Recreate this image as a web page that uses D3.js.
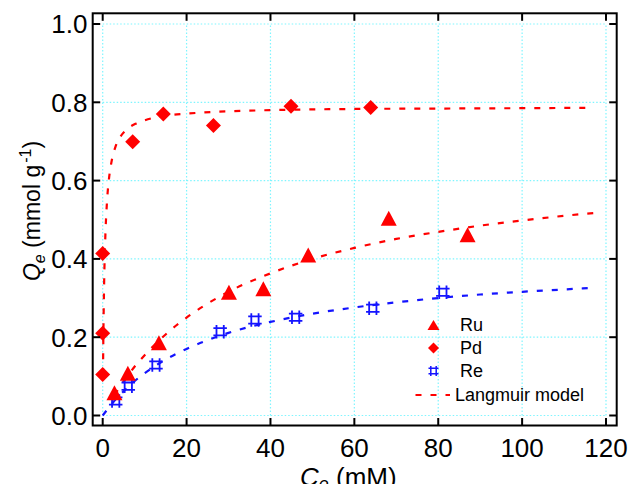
<!DOCTYPE html>
<html><head><meta charset="utf-8">
<script src="https://cdn.jsdelivr.net/npm/d3@7"></script>
<style>html,body{margin:0;padding:0;background:#fff;}svg{display:block;font-family:"Liberation Sans",Arial,sans-serif;}</style>
</head><body>
<svg id="c" width="631" height="484"></svg>
<script>
// ---- data ----
const ruC = [2.8, 6.0, 13.4, 30.1, 38.3, 49.0, 68.2, 87.0];
const ruQ = [0.058, 0.108, 0.186, 0.315, 0.324, 0.410, 0.504, 0.462];
const pdC = [0, 0, 0, 7.15, 14.45, 26.4, 44.9, 63.9];
const pdQ = [0.105, 0.210, 0.414, 0.699, 0.770, 0.741, 0.790, 0.787];
const reC = [3.1, 6.1, 12.7, 28.0, 36.3, 46.0, 64.4, 81.1];
const reQ = [0.037, 0.075, 0.129, 0.214, 0.244, 0.251, 0.274, 0.315];
// Langmuir model curves
const fitPdC = [0.07, 0.15, 0.3, 0.6, 1, 1.5, 2, 3, 4, 6, 8, 10, 15, 20, 30, 40, 60, 80, 100, 117];
const fitPdQ = [0.105, 0.195, 0.313, 0.448, 0.542, 0.605, 0.642, 0.685, 0.708, 0.733, 0.746, 0.754, 0.766, 0.771, 0.777, 0.780, 0.783, 0.784, 0.785, 0.786];
const fitRuC = [2.8, 4, 6, 8, 10, 15, 20, 30, 40, 50, 60, 70, 80, 90, 100, 110, 117];
const fitRuQ = [0.052, 0.072, 0.102, 0.130, 0.154, 0.207, 0.250, 0.316, 0.363, 0.400, 0.428, 0.451, 0.469, 0.485, 0.498, 0.510, 0.517];
const fitReC = [0, 1, 2, 3, 5, 7.5, 10, 15, 20, 30, 40, 50, 60, 70, 80, 90, 100, 110, 117];
const fitReQ = [0, 0.014, 0.027, 0.040, 0.062, 0.087, 0.108, 0.143, 0.170, 0.211, 0.239, 0.260, 0.276, 0.289, 0.300, 0.309, 0.316, 0.322, 0.326];
const xTicks = [0, 20, 40, 60, 80, 100, 120];
const yTicks = [0, 0.2, 0.4, 0.6, 0.8, 1.0];
const legendLabels = ["Ru", "Pd", "Re", "Langmuir model"];

// ---- layout ----
const svg = d3.select("#c");
const x = d3.scaleLinear().domain([0, 120]).range([102.7, 606]);
const y = d3.scaleLinear().domain([0, 1]).range([415.5, 24]);
const frame = {l: 92.7, r: 616.7, t: 13.3, b: 425.5};
const RED = "#ff0000", BLUE = "#1414ff", GRID = "#7ff5ff";

// grid
const g = svg.append("g");
g.selectAll("line.gx").data(xTicks).join("line")
  .attr("x1", d => x(d)).attr("x2", d => x(d)).attr("y1", y(0)).attr("y2", y(1))
  .attr("stroke", GRID).attr("stroke-width", 1.2).attr("stroke-dasharray", "1.5,2");
g.selectAll("line.gy").data(yTicks).join("line")
  .attr("y1", d => y(d)).attr("y2", d => y(d)).attr("x1", x(0)).attr("x2", x(120))
  .attr("stroke", GRID).attr("stroke-width", 1.2).attr("stroke-dasharray", "1.5,2");

// curves
const line = d3.line().x(d => x(d[0])).y(d => y(d[1])).curve(d3.curveMonotoneX);
const curves = [
  {c: fitPdC, q: fitPdQ, col: RED},
  {c: fitRuC, q: fitRuQ, col: RED},
  {c: fitReC, q: fitReQ, col: BLUE}
];
curves.forEach(cv => {
  svg.append("path").datum(cv.c.map((c, i) => [c, cv.q[i]]))
    .attr("d", line).attr("fill", "none").attr("stroke", cv.col)
    .attr("stroke-width", 2.2).attr("stroke-dasharray", "6,9");
});

// marker shapes
function triPath(w, h) { return `M0,${-h/2}L${w/2},${h/2}L${-w/2},${h/2}Z`; }
function diaPath(r) { return `M0,${-r}L${r},0L0,${r}L${-r},0Z`; }
function hashPath(s) {
  const a = s * 0.27, L = s / 2;
  return `M${-a},${-L}V${L}M${a},${-L}V${L}M${-L},${-a}H${L}M${-L},${a}H${L}`;
}

// Re markers
svg.append("g").selectAll("path").data(reC.map((c, i) => [c, reQ[i]])).join("path")
  .attr("transform", d => `translate(${x(d[0])},${y(d[1])})`)
  .attr("d", hashPath(13.5)).attr("fill", "none").attr("stroke", BLUE).attr("stroke-width", 1.8);
// Ru markers
svg.append("g").selectAll("path").data(ruC.map((c, i) => [c, ruQ[i]])).join("path")
  .attr("transform", d => `translate(${x(d[0])},${y(d[1])})`)
  .attr("d", triPath(16, 15)).attr("fill", RED);
// Pd markers
svg.append("g").selectAll("path").data(pdC.map((c, i) => [c, pdQ[i]])).join("path")
  .attr("transform", d => `translate(${x(d[0])},${y(d[1])})`)
  .attr("d", diaPath(7.5)).attr("fill", RED);

// frame
svg.append("rect").attr("x", frame.l).attr("y", frame.t)
  .attr("width", frame.r - frame.l).attr("height", frame.b - frame.t)
  .attr("fill", "none").attr("stroke", "#000").attr("stroke-width", 2);

// ticks (inward, all four sides)
const TL = 7.5;
const tk = svg.append("g").attr("stroke", "#000").attr("stroke-width", 2);
xTicks.forEach(v => {
  tk.append("line").attr("x1", x(v)).attr("x2", x(v)).attr("y1", frame.b).attr("y2", frame.b - TL);
  tk.append("line").attr("x1", x(v)).attr("x2", x(v)).attr("y1", frame.t).attr("y2", frame.t + TL);
});
yTicks.forEach(v => {
  tk.append("line").attr("y1", y(v)).attr("y2", y(v)).attr("x1", frame.l).attr("x2", frame.l + TL);
  tk.append("line").attr("y1", y(v)).attr("y2", y(v)).attr("x1", frame.r).attr("x2", frame.r - TL);
});

// tick labels
const fmtY = d3.format(".1f");
svg.append("g").selectAll("text").data(yTicks).join("text")
  .attr("x", 87.5).attr("y", d => y(d) + 9.3).attr("text-anchor", "end")
  .attr("font-size", 26).attr("fill", "#000").text(d => fmtY(d));
svg.append("g").selectAll("text").data(xTicks).join("text")
  .attr("x", d => x(d)).attr("y", 457).attr("text-anchor", "middle")
  .attr("font-size", 26).attr("fill", "#000").text(d => d);

// axis titles
const xt = svg.append("text").attr("x", 300).attr("y", 486).attr("font-size", 26).attr("fill", "#000");
xt.append("tspan").attr("font-style", "italic").text("C");
xt.append("tspan").attr("font-style", "italic").attr("font-size", 18).attr("dy", 4).text("e");
xt.append("tspan").attr("dy", -4).text(" (mM)");

const yt = svg.append("text").attr("transform", "translate(39.5,211) rotate(-90)")
  .attr("text-anchor", "middle").attr("font-size", 23).attr("fill", "#000");
yt.append("tspan").attr("font-style", "italic").text("Q");
yt.append("tspan").attr("font-style", "italic").attr("font-size", 16).attr("dy", 5).text("e");
yt.append("tspan").attr("dy", -5).text(" (mmol g");
yt.append("tspan").attr("font-size", 16).attr("dy", -9).attr("dx", 2).text("-1");
yt.append("tspan").attr("dy", 9).text(")");

// legend
const lg = svg.append("g");
const lx = 433.5, ly = [325, 348, 371, 395], tx = 460;
lg.append("path").attr("transform", `translate(${lx},${ly[0]})`).attr("d", triPath(12, 10)).attr("fill", RED);
lg.append("path").attr("transform", `translate(${lx},${ly[1]})`).attr("d", diaPath(5.5)).attr("fill", RED);
lg.append("path").attr("transform", `translate(${lx},${ly[2]})`).attr("d", hashPath(10)).attr("fill", "none").attr("stroke", BLUE).attr("stroke-width", 1.5);
lg.append("line").attr("x1", 415.5).attr("x2", 450).attr("y1", ly[3]).attr("y2", ly[3])
  .attr("stroke", RED).attr("stroke-width", 2.2).attr("stroke-dasharray", "6,9");
lg.selectAll("text").data(legendLabels).join("text")
  .attr("x", (d, i) => i === 3 ? 455 : tx).attr("y", (d, i) => ly[i] + 6.3)
  .attr("font-size", 18).attr("fill", "#000").text(d => d);
</script>
</body></html>
